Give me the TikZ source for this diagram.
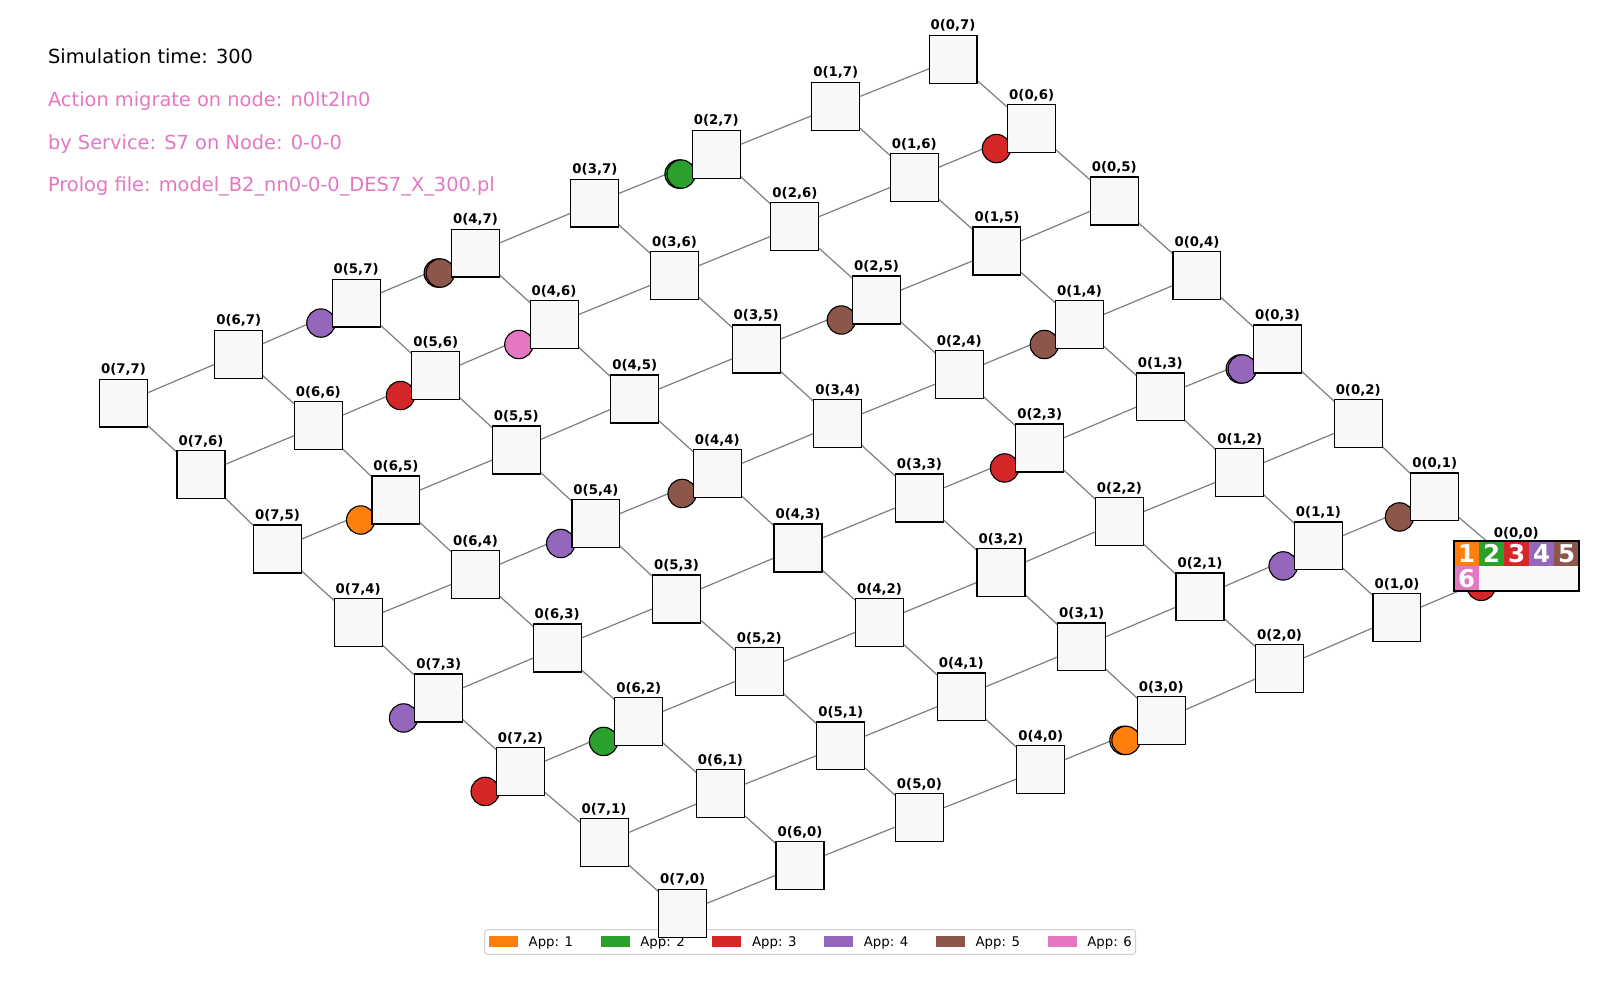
\documentclass[tikz,border=0pt]{standalone}
\usepackage{fontspec}
\setmainfont{DejaVu Sans}
\usepackage{tikz}
\usetikzlibrary{backgrounds}
\definecolor{taborange}{RGB}{255,127,14}
\definecolor{tabgreen}{RGB}{44,160,44}
\definecolor{tabred}{RGB}{214,39,40}
\definecolor{tabpurple}{RGB}{148,103,189}
\definecolor{tabbrown}{RGB}{140,86,75}
\definecolor{tabpink}{RGB}{227,119,194}
\definecolor{boxgray}{RGB}{248,248,248}
\tikzset{
  hostbox/.style={draw=black, line width=0.55pt, fill=boxgray, minimum size=23.5pt, inner sep=0pt},
  hostlbl/.style={font=\fontsize{6.5}{7}\selectfont\bfseries, inner sep=0pt, label distance=1.2pt},
  link/.style={draw=gray, line width=0.6pt},
  appdot/.style={draw=black, line width=0.55pt},
  infotxt/.style={anchor=base west, font=\fontsize{9.5}{11}\selectfont, inner sep=0pt},
  legtxt/.style={anchor=base west, font=\fontsize{6.5}{8}\selectfont, inner sep=0pt},
  celltxt/.style={text=white, font=\fontsize{12}{14}\selectfont\bfseries, inner sep=0pt},
}

\begin{document}
\begin{tikzpicture}[x=0.5pt, y=-0.5pt]
    \useasboundingbox (0,0) rectangle (1568,980);
    % header
    \node[infotxt] (simtime) at (46.7,62) {Simulation time: 300};
    \node[infotxt, text=tabpink] (action) at (46.7,104.6) {Action migrate on node: n0lt2ln0};
    \node[infotxt, text=tabpink] (service) at (46.7,146.3) {by Service: S7 on Node: 0-0-0};
    \node[infotxt, text=tabpink] (prolog) at (46.7,187.2) {Prolog file: model\_B2\_nn0-0-0\_DES7\_X\_300.pl};
    % legend
    \draw[black!18, line width=0.5pt, rounded corners=1.5pt, fill=white, fill opacity=0.8] (475,911) rectangle (1113,935.2);
    \foreach \k/\c in {1/taborange,2/tabgreen,3/tabred,4/tabpurple,5/tabbrown,6/tabpink}{
      \fill[\c] ({479.2+109.5*(\k-1)},917.3) rectangle ++(28.4,10.8);
      \node[legtxt] (leg\k) at ({517.7+109.5*(\k-1)},927.4) {App: \k};
    }
    % hosts
    \foreach \i/\j/\x/\y in {0/7/934/58, 1/7/819/104, 2/7/702/151, 3/7/583/199, 4/7/466/248, 5/7/349/297, 6/7/234/347, 7/7/121/395,
      0/6/1011/126, 1/6/896/174, 2/6/779/222, 3/6/661/270, 4/6/543/318, 5/6/427/368, 6/6/312/417, 7/6/197/465,
      0/5/1092/197, 1/5/977/246, 2/5/859/294, 3/5/741/342, 4/5/622/391, 5/5/506/441, 6/5/388/490, 7/5/272/538,
      0/4/1173/270, 1/4/1058/318, 2/4/940/367, 3/4/821/415, 4/4/703/464, 5/4/584/513, 6/4/466/563, 7/4/351/610,
      0/3/1252/342, 1/3/1137/389, 2/3/1019/439, 3/3/901/488, 4/3/782/537, 5/3/663/587, 6/3/546/635, 7/3/430/684,
      0/2/1331/415, 1/2/1215/463, 2/2/1097/511, 3/2/981/561, 4/2/862/610, 5/2/744/658, 6/2/626/707, 7/2/510/756,
      0/1/1406/487, 1/1/1292/535, 2/1/1176/585, 3/1/1060/634, 4/1/942/683, 5/1/824/731, 6/1/706/778, 7/1/592/826,
      0/0/1486/555, 1/0/1369/605, 2/0/1254/655, 3/0/1138/706, 4/0/1020/754, 5/0/901/801, 6/0/784/848, 7/0/669/895}{
      \node[hostbox, label={[hostlbl]above:{0(\i,\j)}}] (n\i\j) at (\x,\y) {};
    }
    \begin{scope}[on background layer]
      \foreach \i in {0,...,6}{
        \foreach \j in {0,...,7}{
          \pgfmathtruncatemacro\k{\i+1}
          \draw[link] (n\i\j.center) -- (n\k\j.center);
          \draw[link] (n\j\i.center) -- (n\j\k.center);
        }
      }
      % stacked placements
      \foreach \n/\c in {27/tabgreen, 47/tabred, 03/tabpurple, 30/taborange}{
        \draw[appdot, fill=\c] ([shift={(-36.5,19.6)}]n\n.center) circle[radius=6.95pt];
      }
      % app placements
      \foreach \n/\c in {27/tabgreen, 06/tabred, 47/tabbrown, 57/tabpurple, 46/tabpink, 56/tabred, 25/tabbrown, 14/tabbrown,
        03/tabpurple, 23/tabred, 44/tabbrown, 65/taborange, 54/tabpurple, 11/tabpurple, 01/tabbrown, 00/tabred,
        73/tabpurple, 62/tabgreen, 72/tabred, 30/taborange}{
        \draw[appdot, fill=\c] ([shift={(-34.5,19.6)}]n\n.center) circle[radius=6.95pt];
      }
    \end{scope}
    % service table
    \foreach \k/\c in {1/taborange,2/tabgreen,3/tabred,4/tabpurple,5/tabbrown}{
      \fill[\c] ({1425+24.5*(\k-1)},530.2) rectangle ++(24.5,24.4);
      \node[celltxt] (cell\k) at ({1437.25+24.5*(\k-1)},542.4) {\k};
    }
    \fill[tabpink] (1425,554.6) rectangle ++(24.5,24.6);
    \fill[boxgray] (1449.5,554.6) rectangle (1547.5,579.2);
    \node[celltxt] (cell6) at (1437.25,566.9) {6};
    \draw[line width=0.6pt] (1425,530.2) rectangle (1547.5,579.2);
\end{tikzpicture}
\end{document}
